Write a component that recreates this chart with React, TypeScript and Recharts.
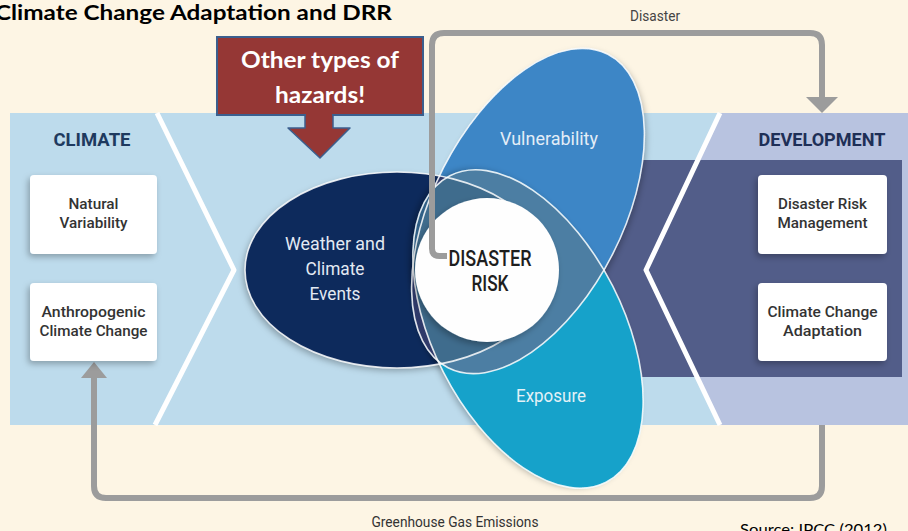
import React from 'react';
import { ScatterChart, Scatter, XAxis, YAxis } from 'recharts';

const W = 908;
const H = 531;

// text content
const title = 'Climate Change Adaptation and DRR';
const climateHeader = 'CLIMATE';
const climateFactors = [['Natural', 'Variability'], ['Anthropogenic', 'Climate Change']];
const developmentHeader = 'DEVELOPMENT';
const developmentFactors = [['Disaster Risk', 'Management'], ['Climate Change', 'Adaptation']];
const calloutLines = ['Other types of', 'hazards!'];
const riskDrivers = [['Weather and', 'Climate', 'Events'], ['Vulnerability'], ['Exposure']];
const riskCore = ['DISASTER', 'RISK'];
const flowLabels = ['Disaster', 'Greenhouse Gas Emissions'];
const sourceNote = 'Source: IPCC (2012)';

const palette = {
  cream: '#fdf5e4',
  climate: '#bddbec',
  development: '#b8c3e0',
  band: '#525d89',
  weather: '#0c2b5c',
  vulnerability: '#3c86c6',
  exposure: '#14a2ca',
  wv: '#2f3a6a',
  we: '#2f5f86',
  ve: '#4c7ea3',
  wve: '#3f6c8d',
  route: '#9c9c9c',
  red: '#953735',
  redEdge: '#3b5f8e',
};

type P = [number, number];

// layout (diagram units, 1 unit = 1px through the axis scales)
const zones = [
  { x: 10, y: 113, kind: 'poly', fill: palette.climate, pts: [[10, 113], [720, 113], [646, 270], [720, 425], [10, 425]] },
  { x: 720, y: 113, kind: 'poly', fill: palette.development, pts: [[720, 113], [908, 113], [908, 425], [720, 425], [646, 270]] },
  { x: 560, y: 160, kind: 'poly', fill: palette.band, pts: [[560, 160], [902, 160], [902, 377], [560, 377]] },
  { x: 157, y: 113, kind: 'line', fill: '#fff', pts: [[157, 113], [234, 270], [155, 425]] },
  { x: 720, y: 113, kind: 'line', fill: '#fff', pts: [[720, 113], [646, 270], [720, 425]] },
];

const boxes = [
  { x: 30, y: 175, w: 127, h: 79 },
  { x: 30, y: 283, w: 127, h: 78 },
  { x: 758, y: 175, w: 129, h: 79 },
  { x: 758, y: 283, w: 129, h: 78 },
];

const callout = [{ x: 217, y: 37, w: 206, h: 78 }];

const ellipses = [
  { x: 397, y: 270, rx: 152, ry: 98, rot: 0, id: 'w', fill: palette.weather },
  { x: 528, y: 211, rx: 176, ry: 95, rot: -63, id: 'v', fill: palette.vulnerability },
  { x: 528, y: 329, rx: 172, ry: 95, rot: 63, id: 'e', fill: palette.exposure },
];

const overlaps = [
  { base: 1, clips: ['e'], fill: palette.ve },
  { base: 0, clips: ['v'], fill: palette.wv },
  { base: 0, clips: ['e'], fill: palette.we },
  { base: 0, clips: ['v', 'e'], fill: palette.wve },
].map((o) => ({ ...o, x: ellipses[o.base].x, y: ellipses[o.base].y }));

const core = [{ x: 487, y: 270, r: 72 }];

const routes = [
  { x: 822, y: 425, pts: [[822, 425], [822, 498], [94, 498], [94, 378]], head: [[81, 378], [107, 378], [94, 362]] },
  { x: 447, y: 256, pts: [[447, 256], [432, 256], [432, 33], [822, 33], [822, 98]], head: [[806, 97], [838, 97], [822, 113]] },
];

const SANS = 'Roboto, "Noto Sans", sans-serif';
const HUMAN = 'Lato, "Open Sans", sans-serif';

const labels = [
  { x: 0, y: 20, lines: [title], lens: [397], size: 20, weight: 700, color: '#000', font: HUMAN, anchor: 'start', dx: -5 },
  { x: 655, y: 21, lines: [flowLabels[0]], lens: [50], size: 14, weight: 400, color: '#444', font: SANS },
  { x: 455, y: 527, lines: [flowLabels[1]], lens: [167], size: 14, weight: 400, color: '#333', font: SANS },
  { x: 740, y: 535, lines: [sourceNote], lens: [147], size: 16, weight: 400, color: '#000', font: HUMAN, anchor: 'start' },
  { x: 320, y: 68, lines: calloutLines, lens: [158, 90], size: 22, weight: 700, color: '#fff', font: HUMAN, lead: 35 },
  { x: 92, y: 146, lines: [climateHeader], lens: [77], size: 19, weight: 700, color: '#1e3a5f', font: SANS },
  { x: 822, y: 146, lines: [developmentHeader], lens: [127], size: 19, weight: 700, color: '#1e2f57', font: SANS },
  { x: 93.5, y: 209, lines: climateFactors[0], lens: [50, 68], size: 15, weight: 500, color: '#333', font: SANS, lead: 19 },
  { x: 93.5, y: 317, lines: climateFactors[1], lens: [104, 108], size: 15, weight: 500, color: '#333', font: SANS, lead: 19 },
  { x: 822.5, y: 209, lines: developmentFactors[0], lens: [89, 90], size: 15, weight: 500, color: '#333', font: SANS, lead: 19 },
  { x: 822.5, y: 317, lines: developmentFactors[1], lens: [110, 79], size: 15, weight: 500, color: '#333', font: SANS, lead: 19 },
  { x: 335, y: 250, lines: riskDrivers[0], lens: [100, 59, 51], size: 18, weight: 400, color: '#e2e9f3', font: SANS, lead: 25 },
  { x: 549, y: 145, lines: riskDrivers[1], lens: [98], size: 18, weight: 400, color: '#e3edf7', font: SANS },
  { x: 551, y: 402, lines: riskDrivers[2], lens: [70], size: 18, weight: 400, color: '#e3f1f7', font: SANS },
  { x: 490, y: 266, lines: riskCore, lens: [83, 37], size: 22, weight: 500, color: '#1e1e1e', font: SANS, lead: 25 },
];

// map a diagram point to pixels relative to the scaled anchor of the mark
const toPx = (p: any, x: number, y: number): P => [p.cx + (x - p.payload.x), p.cy + (y - p.payload.y)];

function roundedPath(points: P[], r: number) {
  let d = `M${points[0][0]},${points[0][1]}`;
  for (let i = 1; i < points.length - 1; i++) {
    const [x0, y0] = points[i - 1];
    const [x1, y1] = points[i];
    const [x2, y2] = points[i + 1];
    const l1 = Math.hypot(x1 - x0, y1 - y0);
    const l2 = Math.hypot(x2 - x1, y2 - y1);
    const rr = Math.min(r, l1 / 2, l2 / 2);
    const ax = x1 - ((x1 - x0) / l1) * rr;
    const ay = y1 - ((y1 - y0) / l1) * rr;
    const bx = x1 + ((x2 - x1) / l2) * rr;
    const by = y1 + ((y2 - y1) / l2) * rr;
    d += ` L${ax},${ay} Q${x1},${y1} ${bx},${by}`;
  }
  const last = points[points.length - 1];
  return d + ` L${last[0]},${last[1]}`;
}

const ZoneShape = (p: any) => {
  const d = p.payload;
  const pts = d.pts.map(([x, y]: P) => toPx(p, x, y).join(',')).join(' ');
  return (
    <g>
      {d === zones[0] && (
        <defs>
          <filter id="soft" x="-20%" y="-20%" width="140%" height="140%">
            <feDropShadow dx="-2" dy="3" stdDeviation="3" floodColor="#000" floodOpacity="0.28" />
          </filter>
        </defs>
      )}
      {d.kind === 'poly' ? (
        <polygon points={pts} fill={d.fill} />
      ) : (
        <polyline points={pts} fill="none" stroke={d.fill} strokeWidth={5} strokeLinejoin="round" />
      )}
    </g>
  );
};

const BoxShape = (p: any) => {
  const d = p.payload;
  const [x, y] = toPx(p, d.x, d.y);
  return <rect x={x} y={y} width={d.w} height={d.h} rx={4} fill="#fff" filter="url(#soft)" />;
};

const CalloutShape = (p: any) => {
  const d = p.payload;
  const [x, y] = toPx(p, d.x, d.y);
  const mid = x + 103;
  const bot = y + d.h;
  const arrow = [
    [mid - 15, bot], [mid + 13, bot], [mid + 13, bot + 13], [mid + 30, bot + 13],
    [mid, bot + 43], [mid - 32, bot + 13], [mid - 15, bot + 13],
  ].map((q) => q.join(',')).join(' ');
  return (
    <g>
      <rect x={x} y={y} width={d.w} height={d.h} fill={palette.red} stroke={palette.redEdge} strokeWidth={2} />
      <polygon points={arrow} fill={palette.red} stroke={palette.redEdge} strokeWidth={1.5} strokeLinejoin="round" />
      <rect x={mid - 14} y={bot - 2} width={26} height={6} fill={palette.red} />
    </g>
  );
};

const ellipseEl = (p: any, e: any, extra: any = {}) => {
  const [cx, cy] = toPx(p, e.x, e.y);
  return <ellipse cx={cx} cy={cy} rx={e.rx} ry={e.ry} transform={`rotate(${e.rot} ${cx} ${cy})`} {...extra} />;
};

const EllipseShape = (p: any) => {
  const e = p.payload;
  return (
    <g>
      <defs>
        <clipPath id={`clip-${e.id}`}>{ellipseEl(p, e)}</clipPath>
      </defs>
      {ellipseEl(p, e, { fill: e.fill, filter: 'url(#soft)' })}
    </g>
  );
};

const OverlapShape = (p: any) => {
  const o = p.payload;
  let node = ellipseEl(p, ellipses[o.base], { fill: o.fill });
  o.clips.forEach((c: string) => {
    node = <g clipPath={`url(#clip-${c})`}>{node}</g>;
  });
  return node;
};

const OutlineShape = (p: any) =>
  ellipseEl(p, p.payload, { fill: 'none', stroke: '#fff', strokeOpacity: 0.85, strokeWidth: 1.6 });

const CoreShape = (p: any) => {
  const d = p.payload;
  const [cx, cy] = toPx(p, d.x, d.y);
  return <circle cx={cx} cy={cy} r={d.r} fill="#fefefe" filter="url(#soft)" />;
};

const RouteShape = (p: any) => {
  const d = p.payload;
  const pts = d.pts.map(([x, y]: P) => toPx(p, x, y));
  const head = d.head.map(([x, y]: P) => toPx(p, x, y).join(',')).join(' ');
  return (
    <g>
      <path d={roundedPath(pts, 12)} fill="none" stroke={palette.route} strokeWidth={6} />
      <polygon points={head} fill={palette.route} />
    </g>
  );
};

const LabelShape = (p: any) => {
  const d = p.payload;
  const [x, y] = toPx(p, d.x, d.y);
  return (
    <g>
      {d.lines.map((line: string, i: number) => (
        <text
          key={i}
          x={x}
          y={y + i * (d.lead || 0)}
          dx={d.dx || 0}
          textAnchor={d.anchor || 'middle'}
          fontFamily={d.font}
          fontSize={d.size}
          fontWeight={d.weight}
          fill={d.color}
          textLength={d.lens[i]}
          lengthAdjust="spacingAndGlyphs"
        >
          {line}
        </text>
      ))}
    </g>
  );
};

export default function App() {
  return (
    <div style={{ position: 'absolute', left: 0, top: 0, width: W, height: H, background: palette.cream, overflow: 'hidden' }}>
      <ScatterChart width={W} height={H} margin={{ top: 0, right: 0, bottom: 0, left: 0 }}>
        <XAxis type="number" dataKey="x" domain={[0, W]} allowDataOverflow hide />
        <YAxis type="number" dataKey="y" domain={[0, H]} allowDataOverflow reversed hide />
        <Scatter data={zones} shape={ZoneShape} isAnimationActive={false} />
        <Scatter data={routes.slice(0, 1)} shape={RouteShape} isAnimationActive={false} />
        <Scatter data={boxes} shape={BoxShape} isAnimationActive={false} />
        <Scatter data={callout} shape={CalloutShape} isAnimationActive={false} />
        <Scatter data={ellipses} shape={EllipseShape} isAnimationActive={false} />
        <Scatter data={overlaps} shape={OverlapShape} isAnimationActive={false} />
        <Scatter data={ellipses} shape={OutlineShape} isAnimationActive={false} />
        <Scatter data={core} shape={CoreShape} isAnimationActive={false} />
        <Scatter data={routes.slice(1)} shape={RouteShape} isAnimationActive={false} />
        <Scatter data={labels} shape={LabelShape} isAnimationActive={false} />
      </ScatterChart>
    </div>
  );
}
